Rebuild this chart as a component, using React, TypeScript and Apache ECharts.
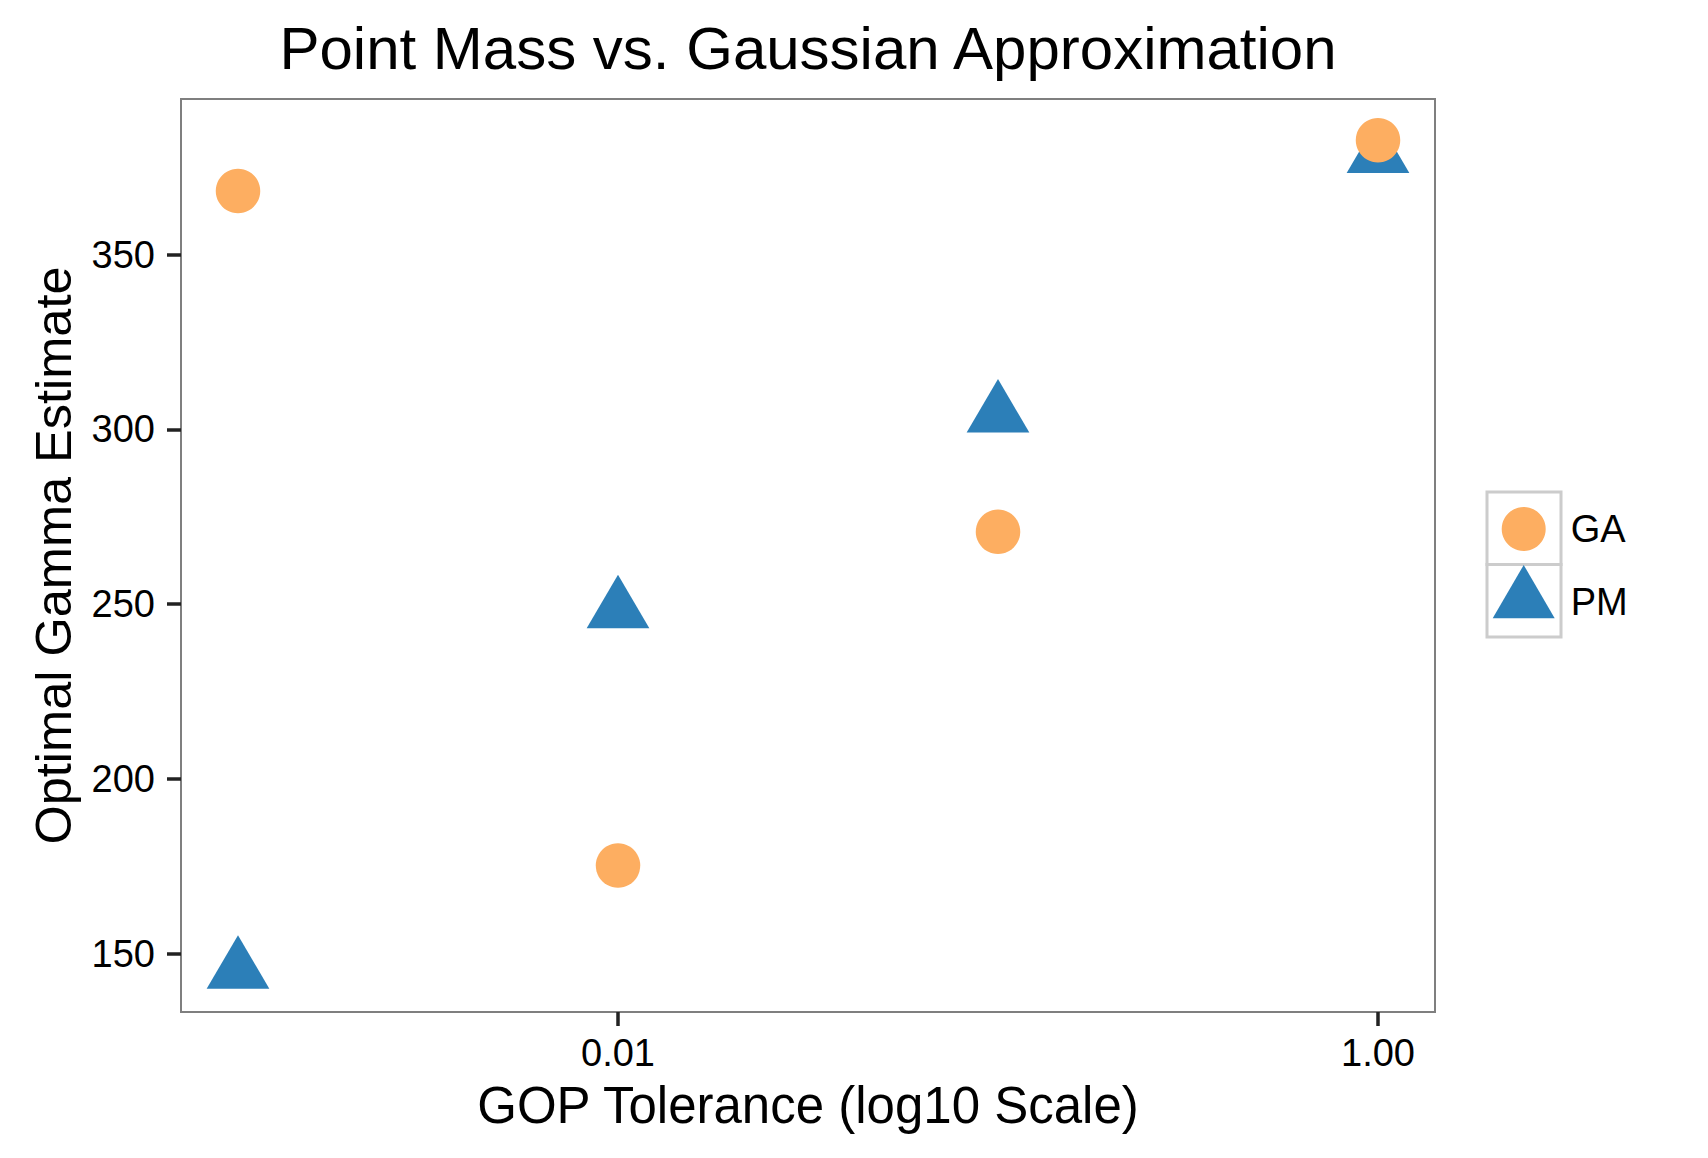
import React, { useEffect, useRef } from "react";
import * as echarts from "echarts";

// GOP tolerance values (x, log10 scale)
const xValues = [0.001, 0.01, 0.1, 1];
// Optimal gamma estimates
const gaValues = [368.2, 175.2, 270.7, 382.7];
const pmValues = [145.1, 248.2, 304.2, 378.5];
// Tick labels
const xTicks = [0.01, 1];
const yTicks = [150, 200, 250, 300, 350];
const seriesNames = ["GA", "PM"];

const FONT = "Liberation Sans";
const GA_COLOR = "#FDAE61";
const PM_COLOR = "#2C7FB8";

export default function App() {
  const ref = useRef<HTMLDivElement>(null);
  useEffect(() => {
    if (!ref.current) return;
    const chart = echarts.init(ref.current, undefined, { renderer: "svg" });
    const gaData = xValues.map((x, i) => [x, gaValues[i]]);
    const pmData = xValues.map((x, i) => [x, pmValues[i]]);
    chart.setOption({
      animation: false,
      backgroundColor: "#ffffff",
      textStyle: { fontFamily: FONT },
      title: {
        text: "Point Mass vs. Gaussian Approximation",
        left: 808,
        top: 18,
        padding: 0,
        textAlign: "center",
        textStyle: { fontSize: 60, fontWeight: "normal", color: "#000", fontFamily: FONT },
      },
      grid: {
        left: 181,
        top: 99,
        width: 1254,
        height: 913,
        show: true,
        borderColor: "#7f7f7f",
        borderWidth: 2,
        backgroundColor: "transparent",
        containLabel: false,
      },
      xAxis: {
        type: "log",
        logBase: 10,
        min: Math.pow(10, -3.15),
        max: Math.pow(10, 0.15),
        name: "GOP Tolerance (log10 Scale)",
        nameLocation: "middle",
        nameGap: 68,
        nameTextStyle: { fontSize: 51, color: "#000", fontFamily: FONT },
        axisLine: { show: false },
        splitLine: { show: false },
        minorSplitLine: { show: false },
        axisTick: {
          show: true,
          length: 14,
          customValues: xTicks,
          lineStyle: { color: "#222", width: 3.5 },
        },
        axisLabel: {
          show: true,
          margin: 22,
          fontSize: 38,
          color: "#000",
          fontFamily: FONT,
          customValues: xTicks,
          formatter: (v: number) => Number(v).toFixed(2),
        },
      },
      yAxis: {
        type: "value",
        min: 133.3,
        max: 394.5,
        name: "Optimal Gamma Estimate",
        nameLocation: "middle",
        nameGap: 102,
        nameTextStyle: { fontSize: 50.5, color: "#000", fontFamily: FONT },
        axisLine: { show: false },
        splitLine: { show: false },
        axisTick: {
          show: true,
          length: 14,
          customValues: yTicks,
          lineStyle: { color: "#222", width: 3.5 },
        },
        axisLabel: {
          show: true,
          margin: 26,
          fontSize: 38,
          color: "#000",
          fontFamily: FONT,
          customValues: yTicks,
        },
      },
      legend: [
        {
          data: [seriesNames[0]],
          orient: "vertical",
          left: 1501.7,
          top: 507,
          padding: 0,
          itemWidth: 44,
          itemHeight: 44,
          selectedMode: false,
          formatter: "{a|{name}}",
          textStyle: {
            fontSize: 38,
            color: "#000",
            fontFamily: FONT,
            rich: { a: { fontSize: 38, color: "#000", fontFamily: FONT, padding: [0, 0, 0, 20] } },
          },
        },
        {
          data: [seriesNames[1]],
          orient: "vertical",
          left: 1492.7,
          top: 565,
          padding: 0,
          itemWidth: 62,
          itemHeight: 53.3,
          selectedMode: false,
          formatter: "{a|{name}}",
          textStyle: {
            fontSize: 38,
            color: "#000",
            fontFamily: FONT,
            rich: { a: { fontSize: 38, color: "#000", fontFamily: FONT, padding: [20, 0, 0, 11] } },
          },
        },
      ],
      graphic: [
        {
          type: "rect",
          z: 0,
          shape: { x: 1487, y: 492, width: 74, height: 72.5 },
          style: { fill: "#fff", stroke: "#cccccc", lineWidth: 3 },
        },
        {
          type: "rect",
          z: 0,
          shape: { x: 1487, y: 564.5, width: 74, height: 72.5 },
          style: { fill: "#fff", stroke: "#cccccc", lineWidth: 3 },
        },
      ],
      series: [
        {
          name: seriesNames[1],
          type: "scatter",
          data: pmData,
          symbol: "triangle",
          symbolSize: [62.7, 53.5],
          symbolOffset: [0, -8.8],
          itemStyle: { color: PM_COLOR, opacity: 1 },
          z: 2,
        },
        {
          name: seriesNames[0],
          type: "scatter",
          data: gaData,
          symbol: "circle",
          symbolSize: 44.5,
          itemStyle: { color: GA_COLOR, opacity: 1 },
          z: 3,
        },
      ],
    });
    return () => chart.dispose();
  }, []);
  return (
    <div
      ref={ref}
      style={{ position: "absolute", left: 0, top: 0, width: 1708, height: 1158 }}
    />
  );
}
